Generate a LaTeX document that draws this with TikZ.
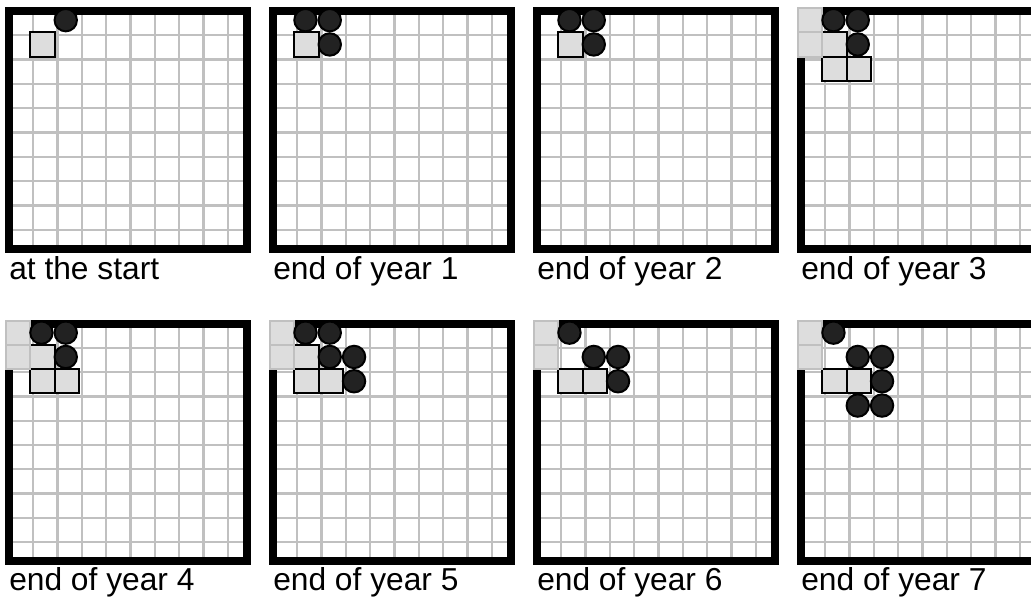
\documentclass[tikz,border=0pt]{standalone}
\usepackage{fontspec}
\setmainfont{Liberation Sans}
\usetikzlibrary{positioning}
\definecolor{gridgray}{RGB}{192,192,192}
\definecolor{plotgray}{RGB}{221,221,221}
\definecolor{blobdark}{RGB}{34,34,34}

\begin{document}
\begin{tikzpicture}[
    x=0.75pt, y=-0.75pt,
    gridline/.style={gridgray, line width=1.7pt},
    panelframe/.style={draw=black, line width=6pt},
    sqplot/.style={fill=plotgray, draw=black, line width=1.5pt},
    sqedge/.style={fill=plotgray, draw=gridgray, line width=1.5pt},
    blob/.style={fill=blobdark, draw=black, line width=1.5pt},
    caption/.style={font=\fontsize{23.8}{28}\selectfont, inner sep=0pt, anchor=base west},
]
    \useasboundingbox (0,0) rectangle (1031,596);

    % Grids, frames and captions
    \foreach \i/\j/\nm/\txt in {0/0/s/at the start, 1/0/a/end of year 1, 2/0/b/end of year 2, 3/0/c/end of year 3,
                                0/1/d/end of year 4, 1/1/e/end of year 5, 2/1/f/end of year 6, 3/1/g/end of year 7} {
        \begin{scope}[shift={(\i*264+9, \j*312.5+11)}]
            \foreach \k in {1,...,9} {
                \draw[gridline] (\k*24.3, 0) -- (\k*24.3, 237.5);
                \draw[gridline] (0, \k*24.3) -- (237.5, \k*24.3);
            }
            \draw[panelframe] (0,0) rectangle (237.5,237.5);
            \node[caption] (cap\nm) at (0,{268-1.5*\j}) {\txt};
        \end{scope}
    }

    % At the start
    \begin{scope}[shift={(9,11)}]
        \foreach \c/\r in {2/2} \draw[sqplot] ({\c*24.3-27.3},{\r*24.3-27.3}) rectangle +(24.3,24.3);
        \foreach \c/\r in {3/1} \draw[blob] ({\c*24.3-16.15},{\r*24.3-15.15}) circle[radius=8.4pt];
    \end{scope}

    % Years 1 and 2
    \foreach \i in {1,2} {
        \begin{scope}[shift={(\i*264+9,11)}]
            \foreach \c/\r in {2/2} \draw[sqplot] ({\c*24.3-27.3},{\r*24.3-27.3}) rectangle +(24.3,24.3);
            \foreach \c/\r in {2/1,3/1,3/2} \draw[blob] ({\c*24.3-16.15},{\r*24.3-15.15}) circle[radius=8.4pt];
        \end{scope}
    }

    % Years 3 and 4
    \foreach \i/\j in {3/0,0/1} {
        \begin{scope}[shift={(\i*264+9,\j*312.5+11)}]
            \foreach \c/\r in {2/2,2/3,3/3} \draw[sqplot] ({\c*24.3-27.3},{\r*24.3-27.3}) rectangle +(24.3,24.3);
            \foreach \c/\r in {1/1,1/2} \draw[sqedge] ({\c*24.3-27.3},{\r*24.3-27.3}) rectangle +(24.3,24.3);
            \foreach \c/\r in {2/1,3/1,3/2} \draw[blob] ({\c*24.3-16.15},{\r*24.3-15.15}) circle[radius=8.4pt];
        \end{scope}
    }

    % Year 5
    \begin{scope}[shift={(264+9,312.5+11)}]
        \foreach \c/\r in {2/2,2/3,3/3} \draw[sqplot] ({\c*24.3-27.3},{\r*24.3-27.3}) rectangle +(24.3,24.3);
        \foreach \c/\r in {1/1,1/2} \draw[sqedge] ({\c*24.3-27.3},{\r*24.3-27.3}) rectangle +(24.3,24.3);
        \foreach \c/\r in {2/1,3/1,3/2,4/2,4/3} \draw[blob] ({\c*24.3-16.15},{\r*24.3-15.15}) circle[radius=8.4pt];
    \end{scope}

    % Year 6
    \begin{scope}[shift={(2*264+9,312.5+11)}]
        \foreach \c/\r in {2/3,3/3} \draw[sqplot] ({\c*24.3-27.3},{\r*24.3-27.3}) rectangle +(24.3,24.3);
        \foreach \c/\r in {1/1,1/2} \draw[sqedge] ({\c*24.3-27.3},{\r*24.3-27.3}) rectangle +(24.3,24.3);
        \foreach \c/\r in {2/1,3/2,4/2,4/3} \draw[blob] ({\c*24.3-16.15},{\r*24.3-15.15}) circle[radius=8.4pt];
    \end{scope}

    % Year 7
    \begin{scope}[shift={(3*264+9,312.5+11)}]
        \foreach \c/\r in {2/3,3/3} \draw[sqplot] ({\c*24.3-27.3},{\r*24.3-27.3}) rectangle +(24.3,24.3);
        \foreach \c/\r in {1/1,1/2} \draw[sqedge] ({\c*24.3-27.3},{\r*24.3-27.3}) rectangle +(24.3,24.3);
        \foreach \c/\r in {2/1,3/2,4/2,4/3,3/4,4/4} \draw[blob] ({\c*24.3-16.15},{\r*24.3-15.15}) circle[radius=8.4pt];
    \end{scope}
\end{tikzpicture}
\end{document}
